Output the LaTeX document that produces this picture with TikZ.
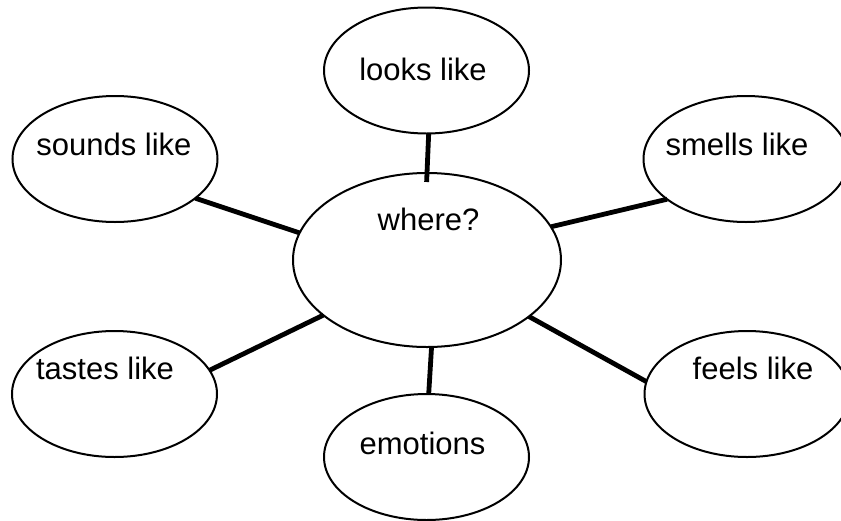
\documentclass[tikz,border=0pt]{standalone}
\usepackage{fontspec}
\setmainfont{Liberation Sans}
\usetikzlibrary{shapes.geometric}
\begin{document}
\begin{tikzpicture}[x=1pt,y=-1pt,
  bubble/.style={draw, ellipse, line width=2pt, inner sep=0pt, outer sep=0pt, minimum width=205pt, minimum height=126pt},
  hub/.style={draw, ellipse, line width=2pt, inner sep=0pt, outer sep=0pt, minimum width=268pt, minimum height=174pt},
  word/.style={anchor=base, inner sep=0pt, font=\fontsize{31}{36}\selectfont},
  link/.style={line width=4.8pt}]
\useasboundingbox (0,0) rectangle (841,520);
\node[hub] (where) at (427,260) {};
\node[bubble] (looks) at (426.5,70.5) {};
\node[bubble] (sounds) at (115,159) {};
\node[bubble] (smells) at (746,159) {};
\node[bubble] (tastes) at (114.5,394) {};
\node[bubble] (feels) at (747,394) {};
\node[bubble] (emotions) at (426.5,457) {};
\node[word] (twhere) at (428.5,230) {where?};
\node[word] (tlooks) at (423,80) {looks like};
\node[word] (tsounds) at (114,155) {sounds like};
\node[word] (tsmells) at (737,155) {smells like};
\node[word] (ttastes) at (105,379) {tastes like};
\node[word] (tfeels) at (753,379) {feels like};
\node[word] (temotions) at (422.5,454) {emotions};
\draw[link, shorten >=-9pt] (looks.-88.7) -- (where.90);
\draw[link] (sounds.-26) -- (where.168.6);
\draw[link] (smells.-153.2) -- (where.15.1);
\draw[link] (tastes.14.5) -- (where.-152.6);
\draw[link] (feels.173) -- (where.-29.7);
\draw[link] (emotions.88.7) -- (where.-87.4);
\end{tikzpicture}
\end{document}
